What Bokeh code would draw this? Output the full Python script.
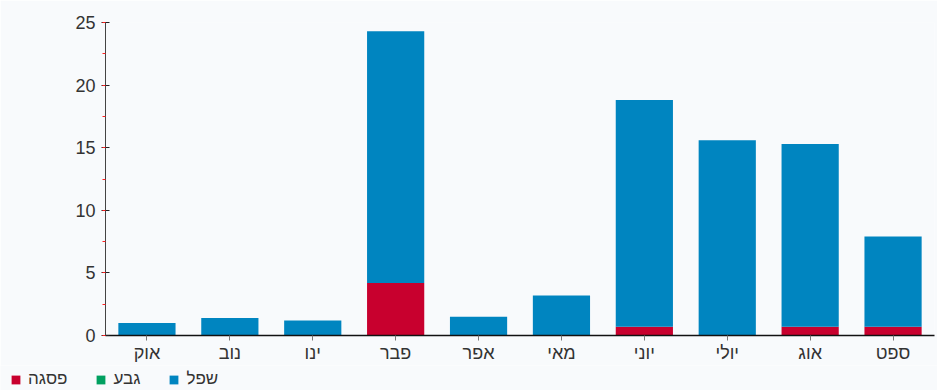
from bokeh.plotting import figure
from bokeh.layouts import column
from bokeh.models import ColumnDataSource, FactorRange, Range1d, SingleIntervalTicker, Legend, LegendItem
from bokeh.embed import file_html
from bokeh.resources import INLINE

months = ["אוק", "נוב", "ינו", "פבר", "אפר", "מאי", "יוני", "יולי", "אוג", "ספט"]
peak = [0, 0, 0, 4.2, 0, 0, 0.7, 0, 0.7, 0.7]      # פסגה
mid = [0, 0, 0, 0, 0, 0, 0, 0, 0, 0]                 # גבע
low = [1.0, 1.4, 1.2, 20.1, 1.5, 3.2, 18.1, 15.6, 14.6, 7.2]  # שפל

series = ["peak", "mid", "low"]
names = ["פסגה", "גבע", "שפל"]
colors = ["#c8002e", "#00a060", "#0085c0"]
BG = "#f8fafc"

src = ColumnDataSource(dict(month=months, peak=peak, mid=mid, low=low))

p = figure(width=937, height=365, x_range=FactorRange(*months), y_range=Range1d(0, 25),
           output_backend="svg", toolbar_location=None,
           min_border_left=105, min_border_right=3, min_border_top=22, min_border_bottom=30)

rs = p.vbar_stack(series, x="month", width=0.69, color=colors, line_color=None, source=src)

p.background_fill_color = BG
p.border_fill_color = BG
p.outline_line_color = None
p.xgrid.visible = False
p.ygrid.visible = False

p.yaxis.ticker = SingleIntervalTicker(interval=5, num_minor_ticks=2)
p.yaxis.axis_line_color = "#444444"
p.yaxis.major_tick_line_color = "#222222"
p.yaxis.major_tick_in = 4
p.yaxis.major_tick_out = 4
p.yaxis.minor_tick_line_color = "#ff2020"
p.yaxis.minor_tick_in = 0
p.yaxis.minor_tick_out = 3
p.yaxis.major_label_text_font = "Liberation Sans"
p.yaxis.major_label_text_font_size = "18px"
p.yaxis.major_label_text_color = "#333333"
p.yaxis.major_label_standoff = 6

p.xaxis.axis_line_color = "#111111"
p.xaxis.axis_line_width = 1.5
p.xaxis.major_tick_line_color = "#777777"
p.xaxis.major_tick_in = 0
p.xaxis.major_tick_out = 5
p.xaxis.major_label_text_font = "Liberation Sans"
p.xaxis.major_label_text_font_size = "18px"
p.xaxis.major_label_text_color = "#333333"
p.xaxis.major_label_standoff = 2

# legend strip below the chart
lg = figure(width=937, height=25, x_range=Range1d(0, 1), y_range=Range1d(0, 1),
            output_backend="svg", toolbar_location=None,
            min_border_left=0, min_border_right=0, min_border_top=0, min_border_bottom=0)
lg.frame_align = False
lg.axis.visible = False
lg.grid.visible = False
lg.outline_line_color = None
lg.background_fill_color = BG
lg.border_fill_color = BG
lrs = [lg.vbar(x=[-10], top=[-10], bottom=[-11], width=0.1, color=c, line_color=None) for c in colors]

legend = Legend(items=[LegendItem(label=n, renderers=[r]) for n, r in zip(names, lrs)],
                orientation="horizontal", location=(10, 1),
                background_fill_alpha=0, border_line_color=None,
                glyph_width=11, glyph_height=11, label_text_font="Liberation Sans",
                label_text_font_size="17px", label_text_color="#333333",
                spacing=28, label_standoff=7, padding=2, margin=0)
lg.add_layout(legend)

layout = column(p, lg, spacing=0)
open("out.html", "w").write(file_html(layout, INLINE))
